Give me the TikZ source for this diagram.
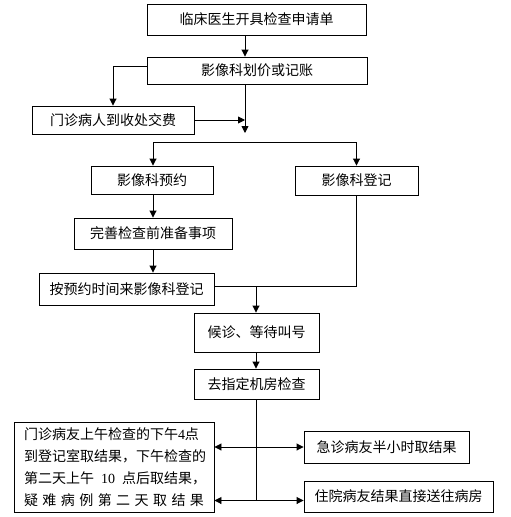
\documentclass[tikz,border=0pt]{standalone}
\usepackage{fontspec}
\setmainfont{Noto Sans CJK SC}
\newfontfamily\latserif{Liberation Serif}
\usetikzlibrary{arrows.meta}
\begin{document}
\begin{tikzpicture}[x=1pt,y=-1pt,
  box/.style={draw,line width=0.9pt,inner sep=0pt,font=\fontsize{14}{22}\selectfont},
  arr/.style={line width=0.9pt,-{Triangle[length=7pt,width=7pt]}},
  arrb/.style={line width=0.9pt,{Triangle[length=7pt,width=7pt]}-{Triangle[length=7pt,width=7pt]}},
  ln/.style={line width=0.9pt}]
\useasboundingbox (0,0) rectangle (511,517);
\fill[white] (0,0) rectangle (511,517);
\node[box,minimum width=219pt,minimum height=31pt] (b1) at (256.5,19.5) {临床医生开具检查申请单};
\node[box,minimum width=220pt,minimum height=27pt] (b2) at (257,70.5) {影像科划价或记账};
\node[box,minimum width=162pt,minimum height=28pt] (b3) at (113,120) {门诊病人到收处交费};
\node[box,minimum width=122pt,minimum height=28pt] (b4) at (152,180) {影像科预约};
\node[box,minimum width=123pt,minimum height=29pt] (b5) at (356.5,180.5) {影像科登记};
\node[box,minimum width=158pt,minimum height=31pt] (b6) at (153,233.5) {完善检查前准备事项};
\node[box,minimum width=175pt,minimum height=32pt] (b7) at (126.5,289) {按预约时间来影像科登记};
\node[box,minimum width=125pt,minimum height=39pt] (b8) at (256.5,332.5) {候诊、等待叫号};
\node[box,minimum width=125pt,minimum height=30pt] (b9) at (256.5,384) {去指定机房检查};
\node[box,minimum width=200pt,minimum height=90pt,align=left] (b10) at (114,467) {\makebox[180pt][s]{门诊病友上午检查的下午{\latserif 4}点}\\\makebox[180pt][s]{到登记室取结果，下午检查的}\\\makebox[180pt][l]{第二天上午\hspace{7pt}{\latserif 10}\hspace{7pt}点后取结果，}\\\makebox[180pt][s]{疑 难 病 例 第 二 天 取 结 果}};
\node[box,minimum width=165pt,minimum height=32pt] (b11) at (386.5,447) {急诊病友半小时取结果};
\node[box,minimum width=189pt,minimum height=31pt] (b12) at (398.5,496.5) {住院病友结果直接送往病房};
\coordinate (m1) at (245,0);
\coordinate (j1) at (245,133);
\coordinate (s1) at (0,142);
\coordinate (l1) at (113,66);
\coordinate (j2) at (256,286);
\coordinate (r1) at (256,447);
\coordinate (r2) at (256,500.5);
\draw[arr] (b1.south -| m1) -- (b2.north -| m1);
\draw[ln] (b2.west |- l1) -- (l1);
\draw[arr] (l1) -- (b3.north -| l1);
\draw[arr] (b2.south -| m1) -- (j1);
\draw[arr] (b3.east) -- (m1 |- b3.east);
\draw[arrb] ([xshift=1pt]b4.north) -- ([xshift=1pt]b4.north |- s1) -- (b5.north |- s1) -- (b5.north);
\draw[arr] ([xshift=1pt]b4.south) -- ([xshift=1pt]b6.north -| b4.south);
\draw[arr] (b6.south) -- (b7.north -| b6.south);
\draw[ln] (b5.south) -- (b5.south |- j2) -- (b7.east |- j2);
\draw[arr] (j2) -- (b8.north -| j2);
\draw[arr] (b8.south -| j2) -- (b9.north -| j2);
\draw[ln] (b9.south -| j2) -- (r2);
\draw[arrb] (b10.east |- r1) -- (b11.west |- r1);
\draw[arrb] (b10.east |- r2) -- (b12.west |- r2);
\end{tikzpicture}
\end{document}
